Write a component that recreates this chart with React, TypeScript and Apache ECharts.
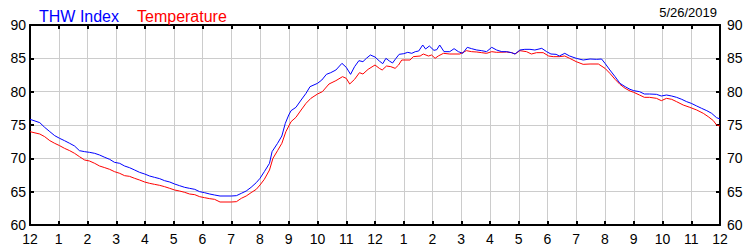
import React, { useEffect, useRef } from "react";
import * as echarts from "echarts";

const hourTicks = [0, 1, 2, 3, 4, 5, 6, 7, 8, 9, 10, 11, 12, 13, 14, 15, 16, 17, 18, 19, 20, 21, 22, 23, 24];
const dateLabel = "5/26/2019";
const seriesNames = ["THW Index", "Temperature"];

const thwHours = [
  0, 0.14, 0.34, 0.51, 0.69, 0.86, 1.03, 1.2, 1.38, 1.55, 1.72, 1.9, 2.07, 2.25, 2.42, 2.6, 2.77, 2.94,
  3.12, 3.29, 3.46, 3.64, 3.81, 3.99, 4.16, 4.33, 4.51, 4.68, 4.86, 5.03, 5.2, 5.38, 5.55, 5.73, 5.9,
  6.07, 6.25, 6.42, 6.61, 7.0, 7.18, 7.35, 7.52, 7.69, 7.87, 8.0, 8.15, 8.33, 8.42, 8.61, 8.76, 8.88,
  9.0, 9.08, 9.25, 9.43, 9.6, 9.74, 10.0, 10.15, 10.31, 10.46, 10.64, 10.85, 11.0, 11.15, 11.29, 11.44,
  11.58, 11.7, 11.84, 12.0, 12.15, 12.27, 12.38, 12.5, 12.61, 12.73, 12.84, 13.0, 13.14, 13.28, 13.4,
  13.52, 13.66, 13.76, 13.89, 14.05, 14.15, 14.25, 14.4, 14.6, 14.75, 14.9, 15.05, 15.21, 15.36, 15.54,
  15.71, 15.88, 16.06, 16.23, 16.41, 16.58, 16.75, 16.87, 17.04, 17.21, 17.39, 17.56, 17.8, 17.97,
  18.12, 18.3, 18.41, 18.6, 18.77, 19.0, 19.24, 19.48, 19.71, 19.88, 20.0, 20.17, 20.35, 20.52, 20.7,
  20.87, 21.0, 21.2, 21.37, 21.55, 21.79, 21.96, 22.14, 22.32, 22.49, 22.67, 22.84, 23.0, 23.19, 23.36,
  23.54, 23.71, 23.88, 24.0,
];
const thwValues = [
  75.85, 75.65, 75.35, 74.65, 74.0, 73.4, 73.0, 72.65, 72.25, 71.85, 71.15, 71.0, 70.9, 70.75, 70.5, 70.15, 69.85, 69.4,
  69.25, 68.85, 68.6, 68.25, 67.9, 67.65, 67.35, 67.15, 66.95, 66.65, 66.45, 66.15, 65.9, 65.65, 65.5, 65.35, 65.0,
  64.85, 64.65, 64.5, 64.35, 64.35, 64.4, 64.75, 65.1, 65.65, 66.35, 67.0, 68.0, 69.25, 71.0, 72.25, 73.35, 75.25,
  76.5, 77.15, 77.65, 78.75, 79.75, 80.75, 81.25, 81.75, 82.6, 82.85, 83.25, 84.25, 83.65, 82.6, 83.75, 84.65,
  84.5, 85.0, 85.5, 85.2, 84.6, 84.2, 85.0, 84.6, 84.3, 85.0, 85.6, 85.7, 85.9, 85.75, 86.0,
  86.1, 87.0, 86.4, 86.85, 86.2, 86.3, 87.0, 86.0, 86.0, 86.45, 86.0, 85.75, 86.65, 86.45, 86.25,
  86.15, 86.0, 86.65, 86.25, 86.0, 86.0, 85.85, 85.65, 86.25, 86.35, 86.35, 86.25, 86.5, 86.0,
  85.65, 85.6, 85.35, 85.75, 85.35, 85.0, 84.75, 84.9, 84.85, 84.9, 84.25, 83.25, 82.25, 81.25, 80.75,
  80.35, 80.15, 80.0, 79.65, 79.65, 79.6, 79.35, 79.5, 79.35, 79.15, 78.85, 78.5, 78.25, 77.85, 77.5,
  77.15, 76.75, 76.1, 75.9,
];

const tempHours = [
  0, 0.14, 0.34, 0.51, 0.69, 0.86, 1.03, 1.2, 1.38, 1.55, 1.72, 1.9, 2.07, 2.25, 2.42, 2.6, 2.77, 2.94,
  3.12, 3.29, 3.46, 3.64, 3.81, 3.99, 4.16, 4.33, 4.51, 4.68, 4.86, 5.03, 5.2, 5.38, 5.55, 5.73, 5.9,
  6.07, 6.25, 6.42, 6.61, 7.0, 7.18, 7.35, 7.52, 7.69, 7.87, 8.0, 8.15, 8.33, 8.45, 8.61, 8.76, 8.9,
  9.08, 9.25, 9.43, 9.6, 9.77, 10.0, 10.17, 10.4, 10.64, 10.87, 11.0, 11.12, 11.29, 11.46, 11.58, 11.76,
  12.0, 12.15, 12.25, 12.4, 12.55, 12.7, 12.82, 12.93, 13.22, 13.33, 13.57, 13.68, 13.86, 13.97, 14.09,
  14.2, 14.38, 14.6, 14.95, 15.18, 15.36, 15.54, 15.71, 15.88, 16.06, 16.23, 16.58, 16.75, 16.87, 17.04,
  17.27, 17.44, 17.62, 17.85, 18.04, 18.2, 18.41, 18.6, 18.77, 19.0, 19.24, 19.48, 19.77, 20.0, 20.17,
  20.35, 20.52, 20.7, 20.87, 21.0, 21.2, 21.37, 21.55, 21.79, 21.96, 22.14, 22.32, 22.49, 22.72, 22.95,
  23.19, 23.42, 23.59, 23.77, 23.88, 24.0,
];
const tempValues = [
  74.0, 73.85, 73.65, 73.25, 72.65, 72.25, 71.9, 71.5, 71.15, 70.75, 70.25, 69.75, 69.6, 69.25, 68.85, 68.6, 68.35, 68.0,
  67.75, 67.4, 67.3, 67.0, 66.75, 66.45, 66.25, 66.1, 65.95, 65.75, 65.5, 65.25, 65.1, 64.9, 64.65, 64.55, 64.25,
  64.1, 63.95, 63.85, 63.45, 63.45, 63.5, 64.0, 64.35, 64.85, 65.35, 66.0, 66.85, 68.25, 70.0, 71.15, 72.25, 74.0,
  75.5, 76.15, 77.25, 78.25, 79.0, 79.65, 80.0, 81.15, 81.65, 82.25, 82.0, 81.15, 81.85, 82.85, 82.65, 83.35,
  84.0, 83.5, 83.25, 83.85, 83.75, 83.5, 84.0, 84.75, 84.75, 85.25, 85.35, 85.65, 85.35, 85.5, 85.0,
  85.35, 85.75, 85.65, 85.65, 86.15, 86.0, 85.95, 85.85, 85.75, 86.0, 85.9, 85.95, 85.85, 85.65, 86.15,
  86.0, 85.65, 85.85, 85.85, 85.35, 85.25, 85.25, 85.35, 85.0, 84.5, 84.1, 84.15, 84.15, 83.5, 82.75,
  81.85, 81.1, 80.5, 80.1, 79.9, 79.5, 79.15, 79.15, 79.0, 78.65, 79.0, 78.85, 78.5, 78.0, 77.65,
  77.25, 76.75, 76.25, 75.65, 75.0, 74.85,
];

const FONT = "'Liberation Sans', Arial, sans-serif";

export default function App() {
  const ref = useRef<HTMLDivElement>(null);
  useEffect(() => {
    if (!ref.current) return;
    const chart = echarts.init(ref.current, null, { renderer: "svg" });
    const hourLabel = (v: number) => {
      const h = Math.round(v) % 12;
      return String(h === 0 ? 12 : h);
    };
    const axisLine = { show: true, onZero: false, lineStyle: { color: "#000", width: 2 } };
    const axisTick = { show: true, inside: true, length: 4, lineStyle: { color: "#000", width: 2 } };
    const gridLine = { show: true, lineStyle: { color: "#cccccc", width: 1 } };
    chart.setOption({
      animation: false,
      backgroundColor: "#fff",
      textStyle: { fontFamily: FONT },
      grid: { left: 30, right: 30, top: 25, bottom: 25, containLabel: false },
      legend: {
        left: 28,
        top: 3,
        itemWidth: 0,
        itemHeight: 0,
        itemGap: 12,
        selectedMode: false,
        data: [
          { name: seriesNames[0], textStyle: { color: "#0000ff" } },
          { name: seriesNames[1], textStyle: { color: "#ff0000" } },
        ],
        textStyle: { fontSize: 16, fontFamily: FONT },
      },
      graphic: [
        {
          type: "text",
          right: 33,
          top: 6,
          style: { text: dateLabel, fill: "#000", font: `13px ${FONT}` },
        },
      ],
      xAxis: [
        {
          type: "value",
          position: "bottom",
          min: hourTicks[0],
          max: hourTicks[hourTicks.length - 1],
          interval: 1,
          axisLine,
          axisTick,
          splitLine: gridLine,
          axisLabel: { color: "#000", fontSize: 14, margin: 7, formatter: hourLabel, fontFamily: FONT },
        },
        {
          type: "value",
          position: "top",
          min: hourTicks[0],
          max: hourTicks[hourTicks.length - 1],
          interval: 1,
          axisLine,
          axisTick,
          splitLine: { show: false },
          axisLabel: { show: false },
        },
      ],
      yAxis: [
        {
          type: "value",
          position: "left",
          min: 60,
          max: 90,
          interval: 5,
          axisLine,
          axisTick,
          splitLine: gridLine,
          axisLabel: { color: "#000", fontSize: 14, margin: 4, fontFamily: FONT },
        },
        {
          type: "value",
          position: "right",
          min: 60,
          max: 90,
          interval: 5,
          axisLine,
          axisTick,
          splitLine: { show: false },
          axisLabel: { color: "#000", fontSize: 14, margin: 7, fontFamily: FONT },
        },
      ],
      series: [
        {
          name: seriesNames[0],
          type: "line",
          xAxisIndex: 0,
          yAxisIndex: 0,
          showSymbol: false,
          symbol: "none",
          lineStyle: { color: "#0000ff", width: 1 },
          itemStyle: { color: "#0000ff" },
          data: thwHours.map((h, i) => [h, thwValues[i]]),
          z: 3,
        },
        {
          name: seriesNames[1],
          type: "line",
          xAxisIndex: 0,
          yAxisIndex: 0,
          showSymbol: false,
          symbol: "none",
          lineStyle: { color: "#ff0000", width: 1 },
          itemStyle: { color: "#ff0000" },
          data: tempHours.map((h, i) => [h, tempValues[i]]),
          z: 2,
        },
      ],
    });
    return () => chart.dispose();
  }, []);
  return (
    <div
      ref={ref}
      style={{ position: "fixed", left: 0, top: 0, width: 750, height: 250, background: "#fff" }}
    />
  );
}
